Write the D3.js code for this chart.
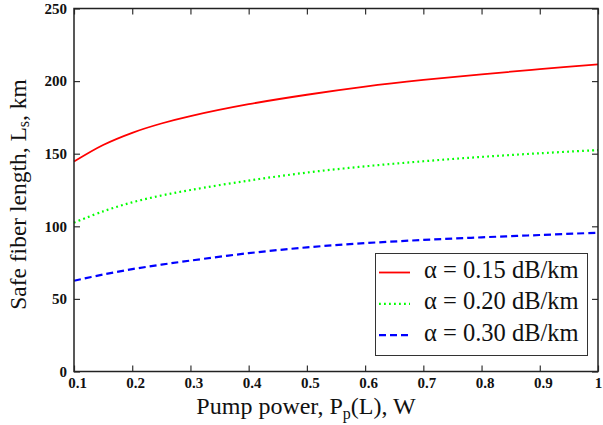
<!DOCTYPE html>
<html>
<head>
<meta charset="utf-8">
<script src="https://cdn.jsdelivr.net/npm/d3@7/dist/d3.min.js"></script>
<style>
  html, body { margin: 0; padding: 0; background: #fff; }
  svg { display: block; }
  text { font-family: "Liberation Serif", "Times New Roman", serif; fill: #111; }
</style>
</head>
<body>
<script>
// Pump power samples (W)
const pumpPower = [0.1, 0.15, 0.2, 0.25, 0.3, 0.4, 0.5, 0.6, 0.7, 0.8, 0.9, 1.0];
// Safe fiber length (km) for each attenuation coefficient
const lenAlpha015 = [144.6, 156.0, 164.4, 170.8, 175.9, 184.1, 190.6, 196.2, 200.8, 204.7, 208.2, 211.5];
const lenAlpha020 = [102.5, 110.3, 116.5, 121.2, 125.0, 131.5, 137.0, 141.3, 144.8, 147.8, 150.3, 152.5];
const lenAlpha030 = [62.5, 66.8, 70.5, 73.6, 76.4, 81.5, 85.5, 88.4, 90.6, 92.4, 94.0, 95.6];
const seriesLabels = ["α = 0.15 dB/km", "α = 0.20 dB/km", "α = 0.30 dB/km"];
const xTicks = [0.1, 0.2, 0.3, 0.4, 0.5, 0.6, 0.7, 0.8, 0.9, 1];
const yTicks = [0, 50, 100, 150, 200, 250];

const W = 603, H = 425;
const margin = { left: 74, right: 5, top: 8.5, bottom: 53.5 };

const svg = d3.select("body").append("svg").attr("width", W).attr("height", H);

const x = d3.scaleLinear().domain([0.1, 1]).range([margin.left, W - margin.right]);
const y = d3.scaleLinear().domain([0, 250]).range([H - margin.bottom, margin.top]);

const series = [
  { values: lenAlpha015, color: "#ff0000", dash: null, width: 1.8 },
  { values: lenAlpha020, color: "#00ff00", dash: "1.8,3.2", width: 2.2 },
  { values: lenAlpha030, color: "#0000ff", dash: "7,4", width: 2.2 }
];

// Curves
const line = d3.line()
  .x(d => x(d[0]))
  .y(d => y(d[1]))
  .curve(d3.curveCatmullRom.alpha(0.5));

series.forEach(s => {
  svg.append("path")
    .datum(pumpPower.map((p, i) => [p, s.values[i]]))
    .attr("fill", "none")
    .attr("stroke", s.color)
    .attr("stroke-width", s.width)
    .attr("stroke-dasharray", s.dash)
    .attr("d", line);
});

// Axes with inward ticks on all four sides
const tickLen = 6;
const fmtX = d => (d === 1 ? "1" : d3.format(".1f")(d));

const bottom = svg.append("g")
  .attr("transform", `translate(0,${y(0)})`)
  .call(d3.axisBottom(x).tickValues(xTicks).tickSizeInner(-tickLen).tickSizeOuter(0).tickFormat(fmtX));
bottom.selectAll("text")
  .attr("dy", "0.71em").attr("y", 6).attr("dx", d => (d === 1 ? 0 : 3))
  .style("font-size", "15px").style("font-weight", "bold");

svg.append("g")
  .attr("transform", `translate(0,${y(250)})`)
  .call(d3.axisTop(x).tickValues(xTicks).tickSizeInner(-tickLen).tickSizeOuter(0).tickFormat(""));

const left = svg.append("g")
  .attr("transform", `translate(${x(0.1)},0)`)
  .call(d3.axisLeft(y).tickValues(yTicks).tickSizeInner(-tickLen).tickSizeOuter(0));
left.selectAll("text")
  .attr("x", -7)
  .style("font-size", "15px").style("font-weight", "bold");

svg.append("g")
  .attr("transform", `translate(${x(1)},0)`)
  .call(d3.axisRight(y).tickValues(yTicks).tickSizeInner(-tickLen).tickSizeOuter(0).tickFormat(""));

svg.selectAll(".domain").remove();
svg.selectAll(".tick line").attr("stroke", "#333").attr("stroke-width", 1.2);
svg.selectAll(".tick text").style("font-family", "'Liberation Serif', serif").attr("fill", "#111");

// Plot frame
svg.append("rect")
  .attr("x", x(0.1)).attr("y", y(250))
  .attr("width", x(1) - x(0.1)).attr("height", y(0) - y(250))
  .attr("fill", "none").attr("stroke", "#222").attr("stroke-width", 1.5);

// Axis titles
const xTitle = svg.append("text")
  .attr("x", 306).attr("y", 414)
  .attr("text-anchor", "middle")
  .style("font-size", "24px");
xTitle.append("tspan").text("Pump power, P");
xTitle.append("tspan").attr("dy", 5).style("font-size", "16px").text("p");
xTitle.append("tspan").attr("dy", -5).text("(L), W");

const yTitle = svg.append("text")
  .attr("transform", `translate(26,${194.5}) rotate(-90)`)
  .attr("text-anchor", "middle")
  .style("font-size", "23.5px");
yTitle.append("tspan").text("Safe fiber length, L");
yTitle.append("tspan").attr("dy", 3).style("font-size", "16px").text("s");
yTitle.append("tspan").attr("dy", -3).text(", km");

// Legend
const legend = svg.append("g");
legend.append("rect")
  .attr("x", 375.5).attr("y", 253.5).attr("width", 212).attr("height", 102)
  .attr("fill", "#fff").attr("stroke", "#333").attr("stroke-width", 1);

series.forEach((s, i) => {
  const base = 278 + i * 31.3;
  const cy = base - 5.5;
  legend.append("line")
    .attr("x1", 379).attr("x2", 410).attr("y1", cy).attr("y2", cy)
    .attr("stroke", s.color).attr("stroke-width", s.width)
    .attr("stroke-dasharray", s.dash);
  legend.append("text")
    .attr("x", 424).attr("y", base)
    .style("font-size", "24.5px")
    .text(seriesLabels[i]);
});
</script>
</body>
</html>
